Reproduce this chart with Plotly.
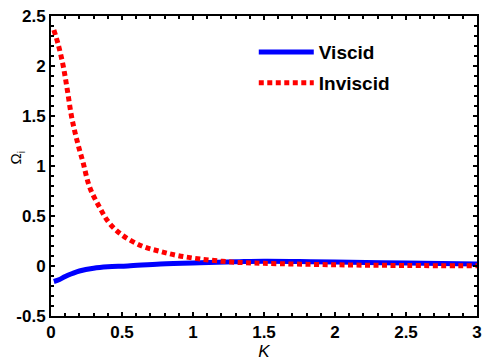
import plotly.graph_objects as go

k_visc = [0.02, 0.06, 0.1, 0.15, 0.2, 0.3, 0.4, 0.54, 0.77, 1.05, 1.3, 1.5, 1.75, 2.0, 2.5, 3.0]
om_visc = [-0.155, -0.135, -0.105, -0.075, -0.05, -0.022, -0.008, 0.0, 0.02, 0.033, 0.042, 0.048, 0.045, 0.04, 0.03, 0.02]

k_invisc = [0.02, 0.05, 0.086, 0.115, 0.144, 0.17, 0.197, 0.225, 0.272, 0.341, 0.41, 0.5, 0.64, 0.77, 0.89, 1.05, 1.27, 1.5, 2.0, 2.5, 3.0]
om_invisc = [2.36, 2.22, 2.0, 1.76, 1.5, 1.33, 1.18, 1.04, 0.79, 0.59, 0.43, 0.31, 0.2, 0.145, 0.105, 0.07, 0.04, 0.027, 0.012, 0.005, 0.002]

x_ticks = [0, 0.5, 1, 1.5, 2, 2.5, 3]
y_ticks = [-0.5, 0, 0.5, 1, 1.5, 2, 2.5]

fig = go.Figure()
fig.add_trace(go.Scatter(x=k_visc, y=om_visc, mode="lines", name="Viscid", legendgroup="a",
                         line=dict(color="#0000ff", width=5, shape="spline")))
fig.add_trace(go.Scatter(x=k_invisc, y=om_invisc, mode="lines", name="Inviscid", legendgroup="b",
                         line=dict(color="#ff0000", width=5, dash="5px,3.5px", shape="spline")))

tickfont = dict(family="Liberation Sans, Arial", size=17, color="black", weight="bold")
axis_common = dict(showline=True, linecolor="black", linewidth=2, mirror="allticks",
                   ticks="inside", ticklen=4, tickwidth=2, tickcolor="black",
                   showgrid=False, zeroline=False, tickfont=tickfont,
                   ticklabeloverflow="allow")

fig.update_layout(
    width=486, height=362,
    margin=dict(l=51, r=4, t=16, b=46),
    plot_bgcolor="white", paper_bgcolor="white",
    xaxis=dict(range=[0, 3], tickvals=x_ticks, ticktext=[f"{v:g}" for v in x_ticks],
               minor=dict(ticks="inside", ticklen=3, tickwidth=1.5, tickcolor="black", dtick=0.1),
               title=dict(text="<i>K</i>", font=dict(family="Liberation Sans, Arial", size=17, color="black"), standoff=0),
               **axis_common),
    yaxis=dict(range=[-0.5, 2.5], tickvals=y_ticks, ticktext=[f"{v:g}" for v in y_ticks],
               minor=dict(ticks="inside", ticklen=3, tickwidth=1.5, tickcolor="black", dtick=0.1),
               **axis_common),
    legend=dict(x=0.476, y=0.943, xanchor="left", yanchor="top", bgcolor="rgba(0,0,0,0)",
                font=dict(family="Liberation Sans, Arial", size=19, color="black", weight="bold"),
                itemwidth=55, traceorder="grouped", tracegroupgap=3),
    showlegend=True,
    annotations=[dict(text="Ω<sub>i</sub>", xref="paper", yref="paper", x=-0.081, y=0.53,
                      xanchor="center", yanchor="middle", textangle=-90, showarrow=False,
                      font=dict(family="Liberation Sans, Arial", size=15, color="black"))],
)

fig.write_html("out.html", config={"displayModeBar": False},
               post_script="document.body.style.margin='0';document.body.style.overflow='hidden';")
